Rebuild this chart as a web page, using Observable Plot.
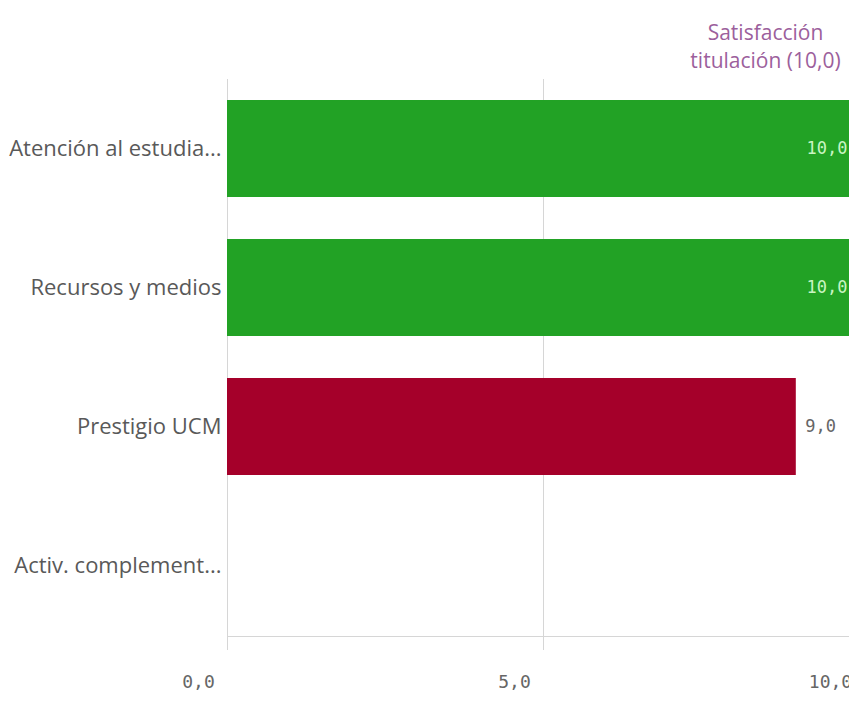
<!DOCTYPE html>
<html>
<head>
<meta charset="utf-8">
<script src="https://cdn.jsdelivr.net/npm/d3@7"></script>
<script src="https://cdn.jsdelivr.net/npm/@observablehq/plot@0.6"></script>
<style>
  html, body { margin: 0; padding: 0; background: #fff; overflow: hidden; }
  #chart { width: 849px; height: 707px; overflow: hidden; }
  #chart svg { max-width: none !important; }
</style>
</head>
<body>
<div id="chart"></div>
<script>
const categories = ["Atención al estudia...", "Recursos y medios", "Prestigio UCM", "Activ. complement..."];
const values = [10.0, 10.0, 9.0, null];
const xTicks = [0, 5, 10];
const refValue = 10.0;
const refLabel = "Satisfacción\ntitulación (10,0)";

const data = categories.map((c, i) => ({category: c, value: values[i]}));
const present = data.filter(d => d.value != null);
const fmt = v => v.toFixed(1).replace(".", ",");
const mono = "'DejaVu Sans Mono', monospace";
const sans = "'Open Sans', sans-serif";

const chart = Plot.plot({
  width: 880,
  height: 707,
  marginTop: 79,
  marginBottom: 71,
  marginLeft: 227,
  marginRight: 21,
  style: {background: "#fff", overflow: "visible", maxWidth: "none"},
  x: {domain: [0, 10], ticks: xTicks, label: null},
  y: {domain: categories, paddingInner: 0.3, paddingOuter: 0.15, label: null},
  color: {type: "threshold", domain: [10], range: ["#a5002a", "#22a225"]},
  marks: [
    Plot.gridX(xTicks, {stroke: "#d6d6d6", strokeOpacity: 1}),
    Plot.axisX(xTicks, {tickSize: 14, stroke: "#d6d6d6", text: null, label: null}),
    Plot.text(xTicks, {x: d => d, frameAnchor: "bottom", dy: 51, dx: -29, text: fmt,
      fontFamily: mono, fontSize: 18, fill: "#666", textAnchor: "middle"}),
    Plot.axisY({tickSize: 0, tickPadding: 6, fontFamily: sans, fontSize: 22, fill: "#595959", label: null}),
    Plot.frame({anchor: "bottom", stroke: "#d6d6d6"}),
    Plot.barX(present, {x: "value", y: "category", fill: "value"}),
    Plot.text(present.filter(d => d.value >= 10), {x: "value", y: "category", text: d => fmt(d.value),
      textAnchor: "end", dx: -12, fill: "#c9f5c2", fontFamily: mono, fontSize: 17}),
    Plot.text(present.filter(d => d.value < 10), {x: "value", y: "category", text: d => fmt(d.value),
      textAnchor: "start", dx: 9, fill: "#666", fontFamily: mono, fontSize: 17}),
    Plot.text([refValue], {x: d => d, frameAnchor: "top", text: () => refLabel, dy: -60, dx: -94,
      lineAnchor: "top", lineHeight: 1.35, textAnchor: "middle", fill: "#9c5f9c", fontFamily: sans, fontSize: 21})
  ]
});
document.getElementById("chart").append(chart);
</script>
</body>
</html>
